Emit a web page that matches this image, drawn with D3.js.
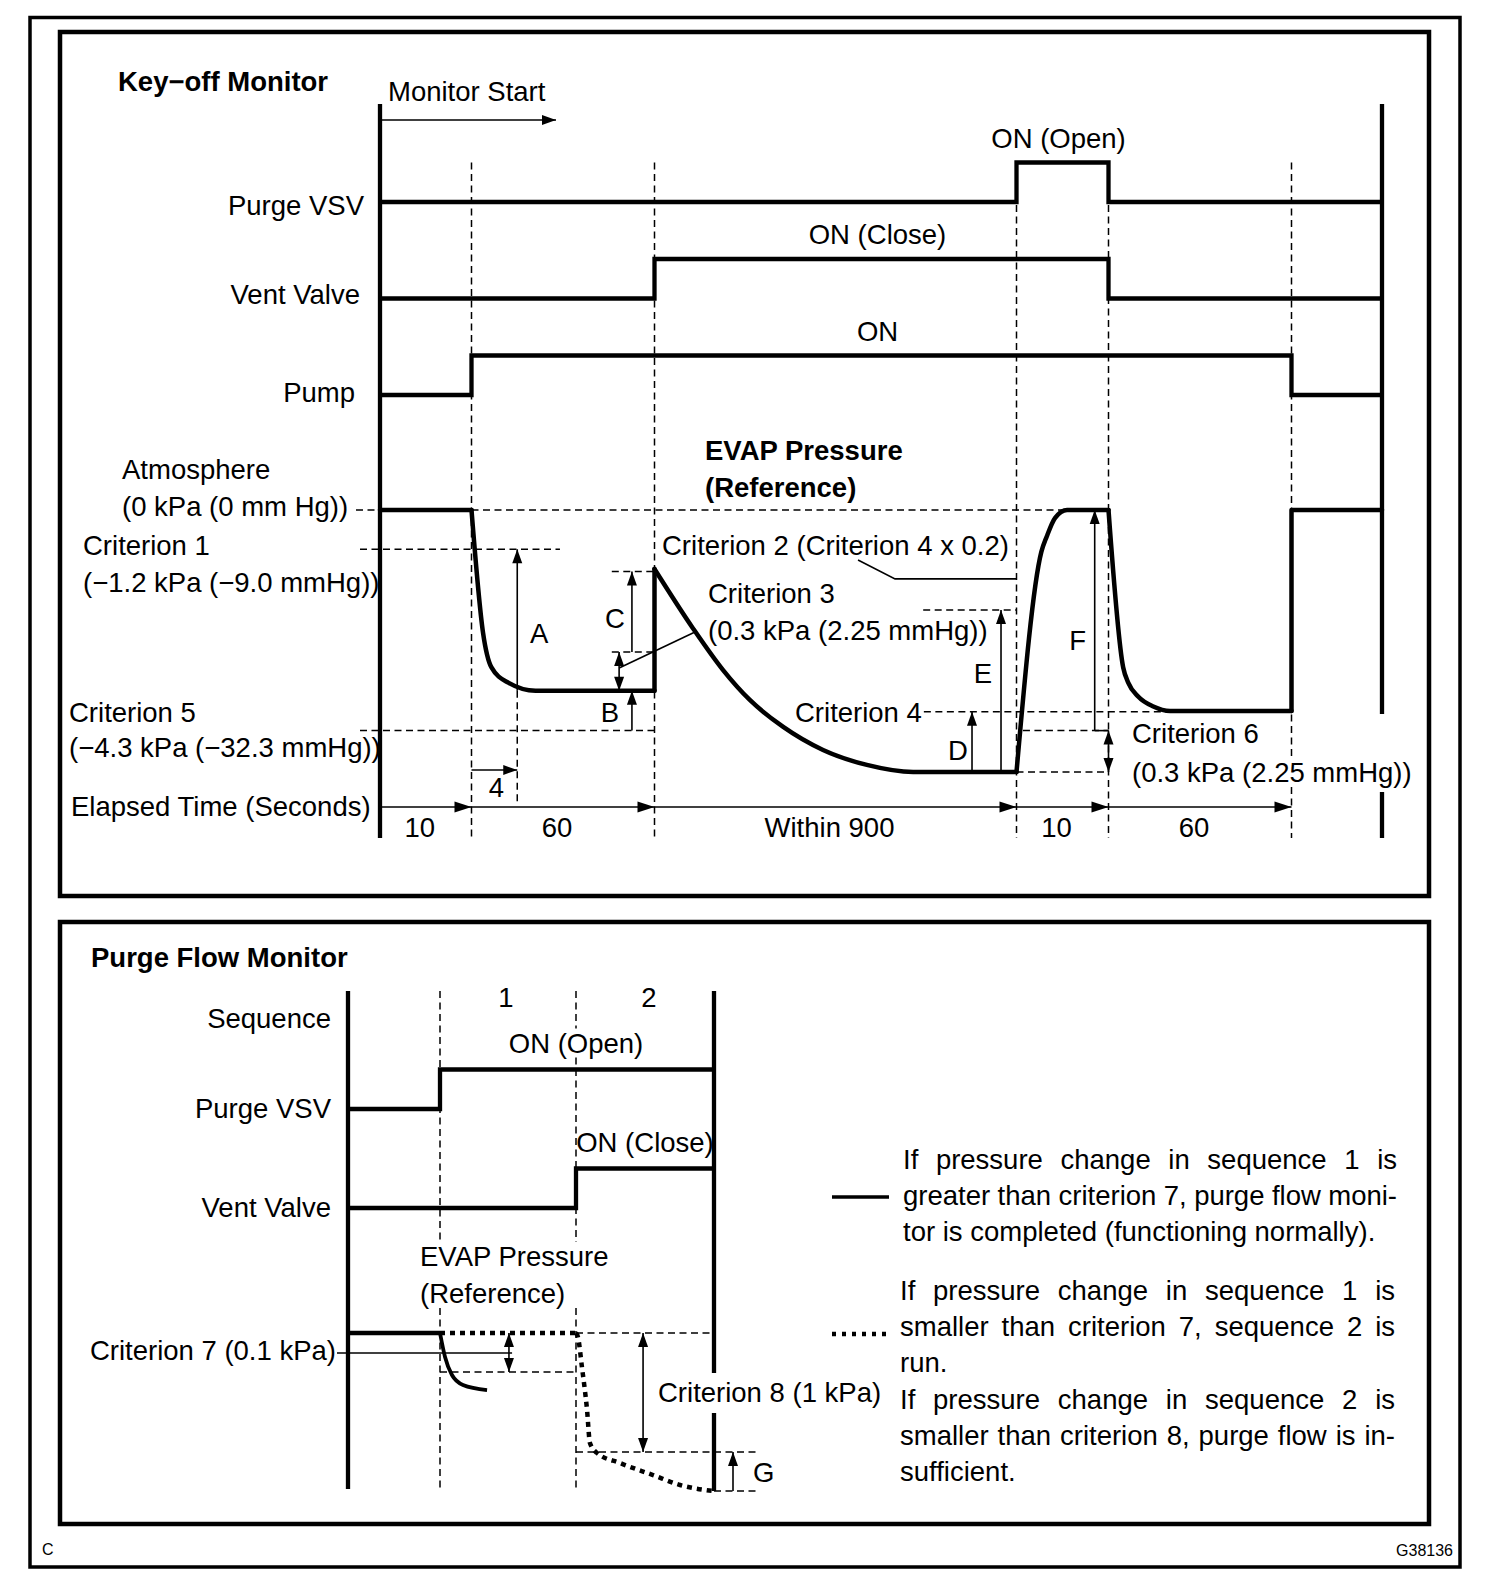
<!DOCTYPE html>
<html>
<head>
<meta charset="utf-8">
<script src="https://cdn.jsdelivr.net/npm/d3@7"></script>
<style>
  body { margin: 0; background: #fff; }
  svg text { font-family: "Liberation Sans", Arial, sans-serif; font-size: 27.5px; fill: #000; }
  svg text.b { font-weight: bold; }
  svg text.s { font-size: 16px; }
</style>
</head>
<body>
<svg id="chart" width="1504" height="1586"></svg>
<script>
// ---- key-off monitor: seconds per phase ----
const phaseSeconds = [10, 60, 900, 10, 60];
const phaseLabels = ['10', '60', 'Within 900', '10', '60'];
const signalNames = ['Purge VSV', 'Vent Valve', 'Pump'];
const signalOnText = ['ON (Open)', 'ON (Close)', 'ON'];
const purgeVsv = [[0, 0], [970, 1], [980, 0], [1070, 0]];
const ventValve = [[0, 0], [70, 1], [980, 0], [1070, 0]];
const pump = [[0, 0], [10, 1], [1040, 0], [1070, 0]];

// EVAP pressure, relative depth (0 = atmosphere, -100 = deepest)
const evapStart = [[0, 0], [10, 0]];
const evapPumpDown = [[10, 0], [13.8, -47], [16.5, -60], [22.2, -66], [31, -69], [70, -69]];
const evapVentClose = [[70, -69], [70, -22.5]];
const evapDecay = [[70, -22.5], [165, -45], [240, -61], [307, -72.5], [390, -82.8], [489, -91.6], [598, -97.3], [713, -100], [970, -100]];
const evapPurgeOpen = [[970, -100], [972.7, -16], [973.3, -10], [974.2, -3], [975.5, 0], [980, 0]];
const evapRecheck = [[980, 0], [984.8, -60], [986.5, -66], [989.8, -71.3], [994.7, -75], [1000.2, -76.7], [1040, -76.7]];
const evapEnd = [[1040, -76.7], [1040, 0], [1070, 0]];

const crit1Level = -15, crit5Level = -84.2, crit4Level = -77, cTopLevel = -23.5, cBottomLevel = -54.2;
const crit2Leader = [[576, -19.1], [668, -26.3], [970, -26.3]];
const crit3Leader = [[58.4, -60.3], [170.7, -46.6]];
const eTopLevel = -38.2;

// ---- purge flow monitor: sequence index ----
const seqLabels = ['1', '2'];
const purgeVsv2 = [[0, 0], [1, 1], [3, 1]];
const ventValve2 = [[0, 0], [2, 1], [3, 1]];
const evapNormal = [[1, 0], [1.037, -15.2], [1.088, -26.6], [1.169, -32.9], [1.346, -36.1]];
const evapLow = [[2, 0], [2.014, -2.5], [2.043, -21.5], [2.08, -48.7], [2.101, -69.6], [2.152, -75.9], [2.319, -82.3], [2.558, -89.9], [2.754, -96.2], [2.993, -100]];
const crit7Level = -24.7, crit8Level = -75.3;

const note1 = ['If pressure change in sequence 1 is', 'greater than criterion 7, purge flow moni-', 'tor is completed (functioning normally).'];
const note2 = ['If pressure change in sequence 1 is', 'smaller than criterion 7, sequence 2 is', 'run.',
               'If pressure change in sequence 2 is', 'smaller than criterion 8, purge flow is in-', 'sufficient.'];

const ink = '#000';
const svg = d3.select('#chart');
const plain = d3.line();

function stroke(g, pts, w, dash) {
  return g.append('path').attr('d', plain(pts)).attr('fill', 'none')
    .attr('stroke', ink).attr('stroke-width', w).attr('stroke-dasharray', dash || null);
}
function dashed(g, x1, y1, x2, y2) { return stroke(g, [[x1, y1], [x2, y2]], 1.5, '7 4.5'); }
// vertical dashed guide that stops where it would run through a label
function dashedV(g, x, y1, y2, labels) {
  const gaps = labels.map(t => t.node().getBBox())
    .filter(b => x >= b.x - 2 && x <= b.x + b.width + 2)
    .map(b => [b.y + 1, b.y + b.height - 1]).sort((a, b) => a[0] - b[0]);
  let y = y1;
  gaps.forEach(([a, b]) => { if (a > y) dashed(g, x, y, x, Math.min(a, y2)); y = Math.max(y, b); });
  if (y < y2) dashed(g, x, y, x, y2);
}
function head(g, x, y, dx, dy, len = 14, half = 5) {
  const bx = x - dx * len, by = y - dy * len;
  const px = -dy * half, py = dx * half;
  g.append('path').attr('d', plain([[x, y], [bx + px, by + py], [bx - px, by - py]]) + 'Z').attr('fill', ink);
}
function arrow(g, x1, y1, x2, y2, both) {
  stroke(g, [[x1, y1], [x2, y2]], 1.6);
  const d = Math.hypot(x2 - x1, y2 - y1), dx = (x2 - x1) / d, dy = (y2 - y1) / d;
  head(g, x2, y2, dx, dy);
  if (both) head(g, x1, y1, -dx, -dy);
}
function label(g, str, x, y, anchor, cls) {
  return g.append('text').attr('x', x).attr('y', y).attr('text-anchor', anchor || 'start')
    .attr('class', cls || null).text(str);
}

// frames
svg.append('rect').attr('x', 30).attr('y', 17.5).attr('width', 1430).attr('height', 1549.5)
  .attr('fill', 'none').attr('stroke', ink).attr('stroke-width', 3.5);
[[32, 864], [922, 602]].forEach(([y, h]) => svg.append('rect').attr('x', 60).attr('y', y)
  .attr('width', 1369).attr('height', h).attr('fill', 'none').attr('stroke', ink).attr('stroke-width', 4.5));
label(svg, 'C', 42, 1555, 'start', 's');
label(svg, 'G38136', 1453, 1556, 'end', 's');

// ================= Key-off monitor =================
const g1 = svg.append('g');
const bounds = Array.from(d3.cumsum([0, ...phaseSeconds]));
const xT = d3.scaleLinear().domain([...bounds, 1070]).range([380, 471.5, 654.5, 1016.5, 1108.5, 1291.5, 1382]);
const rowY = d3.scalePoint().domain(signalNames).range([202, 395]);
const yP = d3.scaleLinear().domain([0, -100]).range([510, 772]);
const stepH = 39.5;
const axisTop = 104, axisBottom = 838, timeY = 807;

label(g1, 'Key\u2212off Monitor', 118, 91, 'start', 'b');
label(g1, 'Monitor Start', xT(0) + 8, 101);
arrow(g1, xT(0), 120, xT(0) + 176, 120);

// criterion 6 text first: guides and the right edge break around it
const c6a = label(g1, 'Criterion 6', 1132, 743);
const c6b = label(g1, '(0.3 kPa (2.25 mmHg))', 1132, 782);

// dashed phase markers
[10, 70, 1040].forEach(t => dashedV(g1, xT(t), rowY('Purge VSV') - stepH, axisBottom, [c6b]));
[970, 980].forEach(t => dashedV(g1, xT(t), rowY('Purge VSV') + 3, axisBottom, [c6b]));

// signals
const labelDy = [13, 5, 7], labelDx = [-16, -20, -25];
[purgeVsv, ventValve, pump].forEach((s, i) => {
  const base = rowY(signalNames[i]);
  const gen = d3.line().curve(d3.curveStepAfter).x(d => xT(d[0])).y(d => base - d[1] * stepH);
  g1.append('path').attr('d', gen(s)).attr('fill', 'none').attr('stroke', ink).attr('stroke-width', 4.3);
  label(g1, signalNames[i], xT(0) + labelDx[i], base + labelDy[i], 'end');
  const on = s.findIndex(d => d[1] === 1);
  const mid = (xT(s[on][0]) + xT(s[on + 1][0])) / 2;
  label(g1, signalOnText[i], mid - 4, base - stepH - 15, 'middle');
});

// reference dashed levels
dashed(g1, 356, yP(0), xT(0), yP(0));
dashed(g1, xT(10), yP(0), xT(975.5), yP(0));
dashed(g1, 360, yP(crit1Level), xT(39), yP(crit1Level));
dashed(g1, xT(56), yP(cTopLevel), xT(70), yP(cTopLevel));
dashed(g1, xT(56), yP(cBottomLevel), xT(70), yP(cBottomLevel));
dashed(g1, 360, yP(crit5Level), xT(70), yP(crit5Level));
dashed(g1, xT(738), yP(eTopLevel), xT(970), yP(eTopLevel));
dashed(g1, xT(970), yP(-100), xT(980), yP(-100));
dashed(g1, xT(970.7), yP(crit5Level), xT(980), yP(crit5Level));
const c4 = label(g1, 'Criterion 4', 795, 722);
dashed(g1, 795 + c4.node().getComputedTextLength() + 2, yP(crit4Level), xT(1000), yP(crit4Level));

// EVAP pressure trace
const linP = d3.line().x(d => xT(d[0])).y(d => yP(d[1]));
const smoothP = d3.line().curve(d3.curveMonotoneX).x(d => xT(d[0])).y(d => yP(d[1]));
[[evapStart, linP], [evapPumpDown, smoothP], [evapVentClose, linP], [evapDecay, smoothP],
 [evapPurgeOpen, smoothP], [evapRecheck, smoothP], [evapEnd, linP]].forEach(([d, gen]) => {
  g1.append('path').attr('d', gen(d)).attr('fill', 'none').attr('stroke', ink)
    .attr('stroke-width', 4.5).attr('stroke-linejoin', 'round').attr('stroke-linecap', 'round');
});

// leaders
stroke(g1, crit2Leader.map(d => [xT(d[0]), yP(d[1])]), 1.6);
stroke(g1, crit3Leader.map(d => [xT(d[0]), yP(d[1])]), 1.6);

// measurement arrows
arrow(g1, xT(25), yP(-69), xT(25), yP(crit1Level));
dashed(g1, xT(25), yP(-69), xT(25), timeY - 4);
arrow(g1, xT(10), 770, xT(25), 770);
arrow(g1, xT(62.6), yP(cBottomLevel), xT(62.6), yP(cTopLevel));
arrow(g1, xT(58.4), yP(-69), xT(58.4), yP(cBottomLevel), true);
arrow(g1, xT(62.6), yP(crit5Level), xT(62.6), yP(-69));
arrow(g1, xT(859.4), yP(-100), xT(859.4), yP(crit4Level));
arrow(g1, xT(931.5), yP(-100), xT(931.5), yP(eTopLevel));
arrow(g1, xT(978.5), yP(crit5Level), xT(978.5), yP(0));
stroke(g1, [[xT(978.5), yP(crit5Level)], [xT(980), yP(crit5Level)]], 1.6);
arrow(g1, xT(980), yP(-100), xT(980), yP(crit5Level), true);

label(g1, 'A', xT(25) + 22, 643, 'middle');
label(g1, 'C', xT(62.6) - 17, 628, 'middle');
label(g1, 'B', xT(62.6) - 22, 722, 'middle');
label(g1, 'D', xT(859.4) - 14, 760, 'middle');
label(g1, 'E', xT(931.5) - 18, 683, 'middle');
label(g1, 'F', xT(978.5) - 17, 650, 'middle');
label(g1, '4', (xT(10) + xT(25)) / 2 + 2, 797, 'middle');

// text annotations
label(g1, 'EVAP Pressure', 705, 460, 'start', 'b');
label(g1, '(Reference)', 705, 497, 'start', 'b');
label(g1, 'Atmosphere', 122, 479);
label(g1, '(0 kPa (0 mm Hg))', 122, 516);
label(g1, 'Criterion 1', 83, 555);
label(g1, '(\u22121.2 kPa (\u22129.0 mmHg))', 83, 592);
label(g1, 'Criterion 5', 69, 722);
label(g1, '(\u22124.3 kPa (\u221232.3 mmHg))', 69, 757);
label(g1, 'Criterion 2 (Criterion 4 x 0.2)', 662, 555);
label(g1, 'Criterion 3', 708, 603);
label(g1, '(0.3 kPa (2.25 mmHg))', 708, 640);

// elapsed time
label(g1, 'Elapsed Time (Seconds)', 71, 816);
stroke(g1, [[xT(0), timeY], [xT(1040), timeY]], 1.6);
bounds.slice(1).forEach(t => head(g1, xT(t), timeY, 1, 0, 17, 5.5));
phaseLabels.forEach((s, i) => label(g1, s, (xT(bounds[i]) + xT(bounds[i + 1])) / 2 - 6, 837, 'middle'));

// axes
stroke(g1, [[xT(0), axisTop], [xT(0), axisBottom]], 4.3);
const c6top = c6a.node().getBBox().y, c6bot = c6b.node().getBBox();
stroke(g1, [[xT(1070), axisTop], [xT(1070), c6top - 4]], 4.3);
stroke(g1, [[xT(1070), c6bot.y + c6bot.height + 4], [xT(1070), axisBottom]], 4.3);

// ================= Purge flow monitor =================
const g2 = svg.append('g');
const xS = d3.scaleLinear().domain([0, 1, 2, 3]).range([348, 440, 576, 714]);
const rowY2 = d3.scalePoint().domain(['Purge VSV', 'Vent Valve']).range([1109, 1208]);
const yP2 = d3.scaleLinear().domain([0, -100]).range([1333, 1491]);
const top2 = 991, bottom2 = 1489;
const seqDx = [-2, 4];

label(g2, 'Purge Flow Monitor', 91, 967, 'start', 'b');
label(g2, 'Sequence', 331, 1028, 'end');
seqLabels.forEach((s, i) => label(g2, s, (xS(i + 1) + xS(i + 2)) / 2 + seqDx[i], 1007, 'middle'));

const guardLabels = [];
[[purgeVsv2, 'Purge VSV', 'ON (Open)'], [ventValve2, 'Vent Valve', 'ON (Close)']].forEach(([s, name, on], i) => {
  const base = rowY2(name);
  const gen = d3.line().curve(d3.curveStepAfter).x(d => xS(d[0])).y(d => base - d[1] * stepH);
  g2.append('path').attr('d', gen(s)).attr('fill', 'none').attr('stroke', ink).attr('stroke-width', 4.3);
  label(g2, name, 331, base + 9, 'end');
  const mid = i === 0 ? xS(2) : (xS(2) + xS(3)) / 2;
  const t = label(g2, on, mid, base - stepH - 17, 'middle');
  if (i === 0) guardLabels.push(t);
});

const evapNote = g2.append('g');
label(evapNote, 'EVAP Pressure', 420, 1266);
label(evapNote, '(Reference)', 420, 1303);
guardLabels.push(evapNote);
[1, 2].forEach(t => dashedV(g2, xS(t), top2, bottom2, guardLabels));

// reference lines
dashed(g2, xS(2), yP2(0), xS(3), yP2(0));
dashed(g2, xS(1), yP2(crit7Level), xS(2), yP2(crit7Level));
dashed(g2, xS(2), yP2(crit8Level), xS(3) + 43, yP2(crit8Level));
dashed(g2, xS(3), yP2(-100), xS(3) + 43, yP2(-100));

const lin2 = d3.line().x(d => xS(d[0])).y(d => yP2(d[1]));
const smooth2 = d3.line().curve(d3.curveMonotoneX).x(d => xS(d[0])).y(d => yP2(d[1]));
g2.append('path').attr('d', lin2([[0, 0], [1, 0]])).attr('fill', 'none').attr('stroke', ink).attr('stroke-width', 4.3);
g2.append('path').attr('d', smooth2(evapNormal)).attr('fill', 'none').attr('stroke', ink).attr('stroke-width', 3.8);
g2.append('path').attr('d', lin2([[1, 0], [2, 0]]) + smooth2(evapLow)).attr('fill', 'none')
  .attr('stroke', ink).attr('stroke-width', 4.5).attr('stroke-dasharray', '5 5');

// criterion 7 and 8
label(g2, 'Criterion 7 (0.1 kPa)', 336, 1360, 'end');
stroke(g2, [[337, yP2(-12.7)], [xS(1.53), yP2(-12.7)]], 1.6);
arrow(g2, xS(1.507), yP2(0), xS(1.507), yP2(crit7Level), true);
arrow(g2, xS(2.486), yP2(0), xS(2.486), yP2(crit8Level), true);
arrow(g2, xS(3) + 19, yP2(-100), xS(3) + 19, yP2(crit8Level));
label(g2, 'G', xS(3) + 39, 1482);
const c8 = label(g2, 'Criterion 8 (1 kPa)', 658, 1402);

// axes
stroke(g2, [[xS(0), top2], [xS(0), bottom2]], 4.3);
const c8b = c8.node().getBBox();
stroke(g2, [[xS(3), top2], [xS(3), c8b.y - 4]], 4.3);
stroke(g2, [[xS(3), c8b.y + c8b.height + 5], [xS(3), bottom2 + 2]], 4.3);

// notes with legend samples
stroke(g2, [[832, 1197], [889, 1197]], 3.5);
stroke(g2, [[832, 1334], [888, 1334]], 4.5, '4 6');

const measure = svg.append('text').attr('x', -999).attr('y', -999);
function wordWidth(w) { measure.text(w); return measure.node().getComputedTextLength(); }
function block(lines, x0, x1, y0, justify) {
  lines.forEach((ln, i) => {
    const y = y0 + i * 36.2;
    const words = ln.split(' ');
    if (!justify[i] || words.length < 2) { label(g2, ln, x0, y); return; }
    const widths = words.map(wordWidth);
    const gap = (x1 - x0 - d3.sum(widths)) / (words.length - 1);
    let x = x0;
    words.forEach((w, k) => { label(g2, w, x, y); x += widths[k] + gap; });
  });
}
block(note1, 903, 1397, 1169, [true, true, false]);
block(note2, 900, 1395, 1300, [true, true, false, true, true, false]);
measure.remove();
</script>
</body>
</html>
